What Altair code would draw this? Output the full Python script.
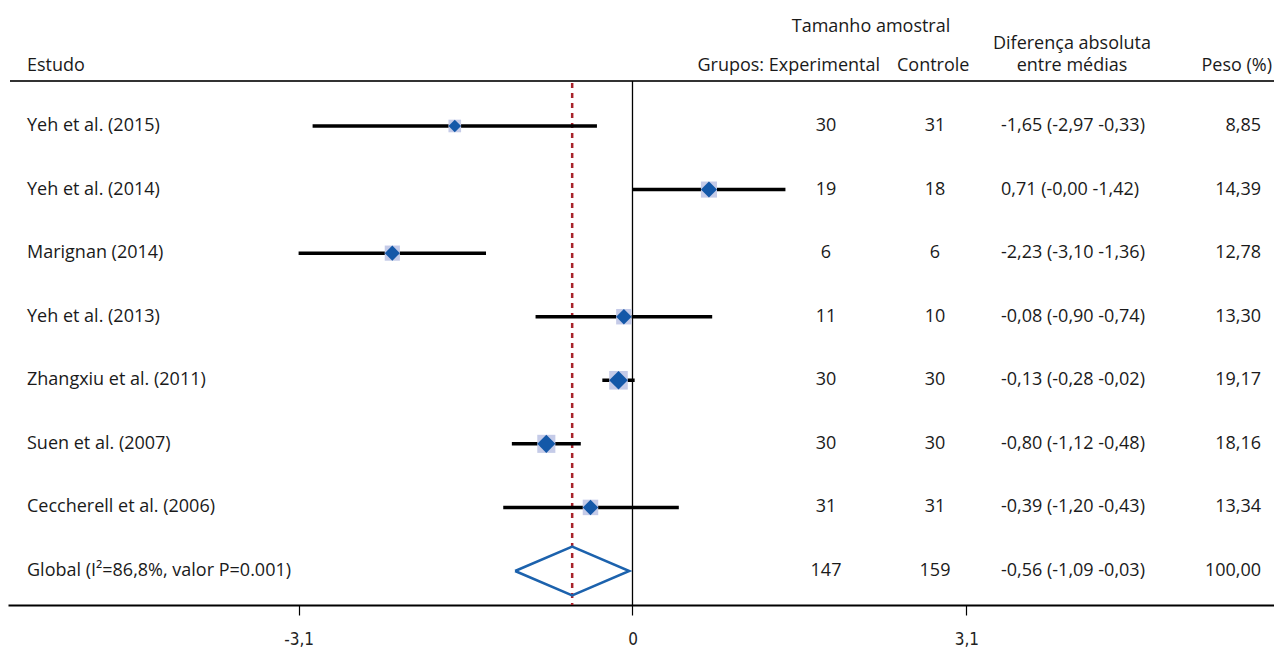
import altair as alt
import pandas as pd

# ---- data ----
studies = ["Yeh et al. (2015)", "Yeh et al. (2014)", "Marignan (2014)", "Yeh et al. (2013)",
           "Zhangxiu et al. (2011)", "Suen et al. (2007)", "Ceccherell et al. (2006)"]
exp_n = [30, 19, 6, 11, 30, 30, 31]
ctrl_n = [31, 18, 6, 10, 30, 30, 31]
md = [-1.65, 0.71, -2.23, -0.08, -0.13, -0.80, -0.39]
ci_lo = [-2.97, 0.00, -3.10, -0.90, -0.28, -1.12, -1.20]
ci_hi = [-0.33, 1.42, -1.36, 0.74, 0.02, -0.48, 0.43]
weights = [8.85, 14.39, 12.78, 13.30, 19.17, 18.16, 13.34]
diff_labels = ["-1,65 (-2,97 -0,33)", "0,71 (-0,00 -1,42)", "-2,23 (-3,10 -1,36)",
               "-0,08 (-0,90 -0,74)", "-0,13 (-0,28 -0,02)", "-0,80 (-1,12 -0,48)",
               "-0,39 (-1,20 -0,43)"]

overall_label = "Global (I\u00b2=86,8%, valor P=0.001)"
overall_exp = 147
overall_ctrl = 159
overall_md = -0.56
overall_lo = -1.09
overall_hi = -0.03
overall_weight = 100.00
overall_diff_label = "-0,56 (-1,09 -0,03)"

tick_values = [-3.1, 0, 3.1]

# ---- tables ----
n = len(studies)
rows = pd.DataFrame({
    "row": list(range(n)),
    "study": studies,
    "exp": [str(v) for v in exp_n],
    "ctrl": [str(v) for v in ctrl_n],
    "md": md, "lo": ci_lo, "hi": ci_hi,
    "w": weights,
    "wtxt": [f"{v:.2f}".replace(".", ",") for v in weights],
    "diff": diff_labels,
})
text_rows = pd.concat([
    rows[["row", "study", "exp", "ctrl", "diff", "wtxt"]],
    pd.DataFrame({"row": [n], "study": [overall_label], "exp": [str(overall_exp)],
                  "ctrl": [str(overall_ctrl)], "diff": [overall_diff_label],
                  "wtxt": [f"{overall_weight:.2f}".replace(".", ",")]}),
], ignore_index=True)

H = 0.385  # diamond half height in row units
diamond = pd.DataFrame({
    "x": [overall_lo, overall_md, overall_hi, overall_md, overall_lo],
    "y": [n, n - H, n, n + H, n],
    "o": [0, 1, 2, 3, 4],
})

FONT = "Open Sans"
FS = 18
XDOM = [-5.798, 5.956]
YDOM = [-1.856, 7.535]

xs = alt.Scale(domain=XDOM, nice=False, zero=False)
ys = alt.Scale(domain=YDOM, nice=False, zero=False, reverse=True)

base = alt.Chart(rows)

ci = base.mark_rule(color="black", strokeWidth=3.5).encode(
    x=alt.X("lo:Q", scale=xs, axis=alt.Axis(
        values=tick_values, title=None, grid=False, domainColor="black", domainWidth=1.8,
        tickColor="black", tickSize=10, tickWidth=1.2,
        labelFont="DejaVu Sans Condensed, Liberation Sans, sans-serif",
        labelFontSize=17, labelColor="#222", labelPadding=16,
        labelExpr="replace(toString(datum.value), '.', ',')")),
    x2="hi:Q",
    y=alt.Y("row:Q", scale=ys, axis=None),
)

boxes = base.mark_square(color="#c5cbe8", opacity=1).encode(
    x=alt.X("md:Q", scale=xs),
    y=alt.Y("row:Q", scale=ys),
    size=alt.Size("w:Q", scale=alt.Scale(domain=[0, 20], range=[0, 360]), legend=None),
)

pts = base.mark_point(shape="diamond", filled=True, color="#1458a8", opacity=1).encode(
    x=alt.X("md:Q", scale=xs),
    y=alt.Y("row:Q", scale=ys),
    size=alt.Size("w:Q", scale=alt.Scale(domain=[0, 20], range=[0, 175]), legend=None),
)

diam = alt.Chart(diamond).mark_line(color="#1c62ad", strokeWidth=2.5).encode(
    x=alt.X("x:Q", scale=xs),
    y=alt.Y("y:Q", scale=ys),
    order="o:O",
)

zero_line = alt.Chart(pd.DataFrame({"x": [0]})).mark_rule(color="black", strokeWidth=1.3).encode(
    x=alt.X("x:Q", scale=xs), y=alt.value(73), y2=alt.value(597))

ref_line = alt.Chart(pd.DataFrame({"x": [overall_md]})).mark_rule(
    color="#a8232b", strokeWidth=2.5, strokeDash=[5, 5]).encode(
    x=alt.X("x:Q", scale=xs), y=alt.value(75), y2=alt.value(597))

head_line = alt.Chart(pd.DataFrame({"a": [0]})).mark_rule(color="#333", strokeWidth=2).encode(
    x=alt.value(2), x2=alt.value(1266), y=alt.value(73))

tb = alt.Chart(text_rows)
tstyle = dict(font=FONT, fontSize=FS, color="#1a1a1a", baseline="middle")
t_study = tb.mark_text(align="left", **tstyle).encode(
    x=alt.value(19), y=alt.Y("row:Q", scale=ys), text="study:N")
t_exp = tb.mark_text(align="center", **tstyle).encode(
    x=alt.value(818), y=alt.Y("row:Q", scale=ys), text="exp:N")
t_ctrl = tb.mark_text(align="center", **tstyle).encode(
    x=alt.value(927), y=alt.Y("row:Q", scale=ys), text="ctrl:N")
t_diff = tb.mark_text(align="left", **tstyle).encode(
    x=alt.value(993), y=alt.Y("row:Q", scale=ys), text="diff:N")
t_w = tb.mark_text(align="right", **tstyle).encode(
    x=alt.value(1253), y=alt.Y("row:Q", scale=ys), text="wtxt:N")

headers = [
    ("Estudo", 19, 58, "left"),
    ("Tamanho amostral", 863, 19, "center"),
    ("Grupos: Experimental", 872, 58, "right"),
    ("Controle", 889, 58, "left"),
    ("Diferença absoluta", 1064, 36, "center"),
    ("entre médias", 1064, 58, "center"),
    ("Peso (%)", 1264, 58, "right"),
]
hlayers = []
for txt, hx, hy, al in headers:
    hlayers.append(alt.Chart(pd.DataFrame({"t": [txt]})).mark_text(align=al, **tstyle).encode(
        x=alt.value(hx), y=alt.value(hy), text="t:N"))

chart = alt.layer(
    head_line, zero_line, ref_line, ci, boxes, pts, diam,
    t_study, t_exp, t_ctrl, t_diff, t_w, *hlayers
).properties(
    width=1266, height=597,
    autosize=alt.AutoSizeParams(type="none"),
    padding={"left": 0, "top": 0, "right": 0, "bottom": 48},
    background="white",
).configure_view(stroke=None)

chart.save("out.html", embed_options={"renderer": "svg", "actions": False})
